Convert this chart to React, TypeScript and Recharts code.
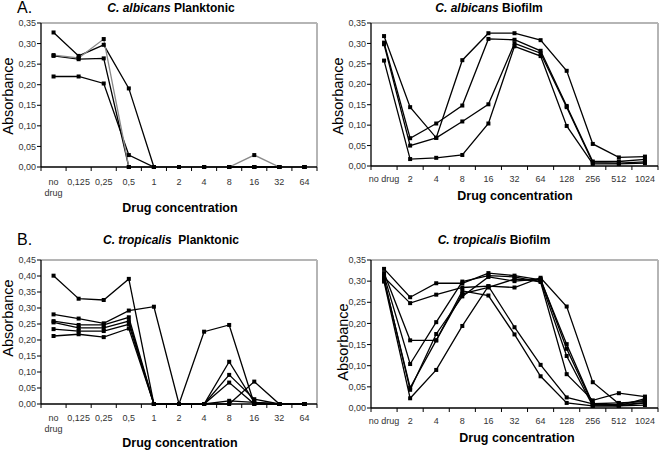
import React from "react";
import { LineChart, Line, XAxis, YAxis, ReferenceLine } from "recharts";

const planktonicConc = ["no drug", "0,125", "0,25", "0,5", "1", "2", "4", "8", "16", "32", "64"];
const biofilmConc = ["no drug", "2", "4", "8", "16", "32", "64", "128", "256", "512", "1024"];

const yTicks035 = [0, 0.05, 0.1, 0.15, 0.2, 0.25, 0.3, 0.35];
const yTicks045 = [0, 0.05, 0.1, 0.15, 0.2, 0.25, 0.3, 0.35, 0.4, 0.45];

// C. albicans planktonic
const albPlank1 = [0.327, 0.27, 0.297, 0.191, 0, 0, 0, 0, 0, 0, 0];
const albPlank2 = [0.272, 0.265, 0.311, 0, 0, 0, 0, 0, 0.029, 0, 0];
const albPlank3 = [0.27, 0.262, 0.264, 0, 0, 0, 0, 0, 0, 0, 0];
const albPlank4 = [0.22, 0.22, 0.203, 0.029, 0, 0, 0, 0, 0, 0, 0];

// C. albicans biofilm
const albBio1 = [0.318, 0.144, 0.069, 0.259, 0.325, 0.325, 0.308, 0.233, 0.054, 0.021, 0.023];
const albBio2 = [0.302, 0.068, 0.104, 0.148, 0.311, 0.309, 0.282, 0.147, 0.011, 0.011, 0.016];
const albBio3 = [0.298, 0.05, 0.069, 0.109, 0.151, 0.3, 0.276, 0.144, 0.008, 0.007, 0.01];
const albBio4 = [0.258, 0.017, 0.02, 0.027, 0.104, 0.293, 0.269, 0.098, 0.005, 0.005, 0.007];

// C. tropicalis planktonic
const tropPlank1 = [0.401, 0.329, 0.325, 0.391, 0, 0, 0, 0.132, 0.005, 0, 0];
const tropPlank2 = [0.28, 0.267, 0.252, 0.292, 0.304, 0, 0.226, 0.247, 0, 0, 0];
const tropPlank3 = [0.259, 0.247, 0.247, 0.271, 0, 0, 0, 0.091, 0.015, 0, 0];
const tropPlank4 = [0.255, 0.238, 0.238, 0.259, 0, 0, 0, 0.067, 0, 0, 0];
const tropPlank5 = [0.234, 0.228, 0.228, 0.249, 0, 0, 0, 0.01, 0.005, 0, 0];
const tropPlank6 = [0.2125, 0.218, 0.209, 0.236, 0, 0, 0, 0, 0.07, 0, 0];

// C. tropicalis biofilm
const tropBio1 = [0.329, 0.262, 0.295, 0.295, 0.319, 0.313, 0.303, 0.151, 0.01, 0.005, 0.012];
const tropBio2 = [0.309, 0.248, 0.268, 0.285, 0.288, 0.285, 0.308, 0.24, 0.061, 0.01, 0.018];
const tropBio3 = [0.319, 0.16, 0.16, 0.27, 0.285, 0.305, 0.3, 0.123, 0.005, 0.005, 0.022];
const tropBio4 = [0.313, 0.104, 0.203, 0.299, 0.313, 0.31, 0.298, 0.08, 0.018, 0.035, 0.027];
const tropBio5 = [0.303, 0.048, 0.16, 0.277, 0.266, 0.174, 0.075, 0.012, 0.005, 0.005, 0.007];
const tropBio6 = [0.299, 0.023, 0.09, 0.194, 0.288, 0.191, 0.102, 0.025, 0.01, 0.012, 0.015];
const tropBio7 = [0.306, 0.043, 0.175, 0.264, 0.31, 0.3, 0.305, 0.14, 0.008, 0.008, 0.012];

const FONT = "'Liberation Sans', Arial, sans-serif";

type Series = { values: number[]; color?: string };

function Panel(props: {
  left: number;
  top: number;
  width: number;
  height: number;
  margin: { top: number; right: number; bottom: number; left: number };
  labels: string[];
  wrap: boolean;
  yMax: number;
  yTicks: number[];
  series: Series[];
  tickMargin: number;
}) {
  const { left, top, width, height, margin, labels, wrap, yMax, yTicks, series, tickMargin } = props;
  const data = labels.map((label, i) => {
    const row: any = { x: i, label };
    series.forEach((s, k) => (row["s" + k] = s.values[i]));
    return row;
  });
  const xTicks: number[] = [];
  for (let i = 0; i <= labels.length * 2; i++) xTicks.push(i / 2 - 0.5);

  const XTick = (p: any) => {
    const { x, y, payload } = p;
    const v = payload.value;
    if (Math.abs(v - Math.round(v)) > 0.01) {
      const ay = y - 4 - tickMargin;
      return <line x1={x} x2={x} y1={ay} y2={ay + 4} stroke="#000" strokeWidth={1} />;
    }
    const label = labels[Math.round(v)];
    if (wrap && label === "no drug") {
      return (
        <text x={x} y={y} textAnchor="middle" fontSize={9} fill="#333" fontFamily={FONT}>
          <tspan x={x} dy="0.75em">no</tspan>
          <tspan x={x} dy="1.3em">drug</tspan>
        </text>
      );
    }
    return (
      <text x={x} y={y} dy="0.75em" textAnchor="middle" fontSize={9} fill="#333" fontFamily={FONT}>
        {label}
      </text>
    );
  };

  const square = (key: string) => (p: any) => (
    <rect key={key + "-" + p.index} x={p.cx - 2} y={p.cy - 2} width={4} height={4} fill="#000" />
  );

  return (
    <div style={{ position: "absolute", left, top }}>
      <LineChart width={width} height={height} data={data} margin={margin}>
        <XAxis
          dataKey="x"
          type="number"
          domain={[-0.5, labels.length - 0.5]}
          ticks={xTicks}
          interval={0}
          tick={XTick}
          tickLine={false}
          tickSize={4}
          tickMargin={tickMargin}
          axisLine={{ stroke: "#000", strokeWidth: 1.3 }}
          height={30}
        />
        <YAxis
          type="number"
          domain={[0, yMax]}
          ticks={yTicks}
          interval={0}
          width={41}
          tickSize={4}
          tickMargin={1}
          tickLine={{ stroke: "#000" }}
          axisLine={{ stroke: "#000", strokeWidth: 1.3 }}
          tick={{ fontSize: 9, fill: "#333", fontFamily: FONT }}
          tickFormatter={(v: number) => v.toFixed(2).replace(".", ",")}
        />
        <ReferenceLine y={yMax} stroke="#b5b5b5" strokeWidth={2} />
        <ReferenceLine x={labels.length - 0.5} stroke="#b5b5b5" strokeWidth={2} />
        {series.map((s, k) => (
          <Line
            key={k}
            dataKey={"s" + k}
            type="linear"
            stroke={s.color || "#000"}
            strokeWidth={1.3}
            dot={square("s" + k)}
            activeDot={false}
            isAnimationActive={false}
          />
        ))}
      </LineChart>
    </div>
  );
}

const textBase: React.CSSProperties = { position: "absolute", fontFamily: FONT, color: "#000", whiteSpace: "nowrap" };

function Title({ cx, cy, species, kind }: { cx: number; cy: number; species: string; kind: string }) {
  return (
    <div style={{ ...textBase, left: cx - 100, top: cy - 7, width: 200, textAlign: "center", fontSize: 12, lineHeight: "14px", fontWeight: "bold" }}>
      <i>{species}</i> {kind}
    </div>
  );
}

function XLabel({ cx, cy }: { cx: number; cy: number }) {
  return (
    <div style={{ ...textBase, left: cx - 80, top: cy - 8, width: 160, textAlign: "center", fontSize: 12.5, lineHeight: "16px", fontWeight: "bold" }}>
      Drug concentration
    </div>
  );
}

function YLabel({ cx, cy }: { cx: number; cy: number }) {
  return (
    <div style={{ ...textBase, left: cx - 50, top: cy - 8, width: 100, height: 16, textAlign: "center", fontSize: 14.5, lineHeight: "16px", transform: "rotate(-90deg)" }}>
      Absorbance
    </div>
  );
}

export default function App() {
  return (
    <div style={{ position: "absolute", left: 0, top: 0, width: 661, height: 450, background: "#fff", overflow: "hidden" }}>
      <Panel
        left={0}
        top={0}
        width={330}
        height={225}
        margin={{ top: 23, right: 13, bottom: 28, left: 0 }}
        labels={planktonicConc}
        wrap={true}
        yMax={0.35}
        yTicks={yTicks035}
        tickMargin={7}
        series={[{ values: albPlank1 }, { values: albPlank3 }, { values: albPlank4 }, { values: albPlank2, color: "#8a8a8a" }]}
      />
      <Panel
        left={330}
        top={0}
        width={331}
        height={225}
        margin={{ top: 23, right: 3, bottom: 29, left: 0 }}
        labels={biofilmConc}
        wrap={false}
        yMax={0.35}
        yTicks={yTicks035}
        tickMargin={5}
        series={[{ values: albBio1 }, { values: albBio2 }, { values: albBio3 }, { values: albBio4 }]}
      />
      <Panel
        left={0}
        top={225}
        width={330}
        height={225}
        margin={{ top: 35, right: 13, bottom: 16, left: 0 }}
        labels={planktonicConc}
        wrap={true}
        yMax={0.45}
        yTicks={yTicks045}
        tickMargin={6}
        series={[
          { values: tropPlank1 },
          { values: tropPlank2 },
          { values: tropPlank3 },
          { values: tropPlank4 },
          { values: tropPlank5 },
          { values: tropPlank6 },
        ]}
      />
      <Panel
        left={330}
        top={225}
        width={331}
        height={225}
        margin={{ top: 35, right: 3, bottom: 12, left: 0 }}
        labels={biofilmConc}
        wrap={false}
        yMax={0.35}
        yTicks={yTicks035}
        tickMargin={5}
        series={[
          { values: tropBio1 },
          { values: tropBio2 },
          { values: tropBio3 },
          { values: tropBio4 },
          { values: tropBio5 },
          { values: tropBio6 },
          { values: tropBio7 },
        ]}
      />

      <div style={{ ...textBase, left: 17, top: -1, fontSize: 16, lineHeight: "18px" }}>A.</div>
      <div style={{ ...textBase, left: 17, top: 231, fontSize: 16, lineHeight: "18px" }}>B.</div>

      <Title cx={171} cy={8} species="C. albicans" kind="Planktonic" />
      <Title cx={489} cy={8} species="C. albicans" kind="Biofilm" />
      <Title cx={171} cy={240} species="C. tropicalis" kind={"\u00a0Planktonic"} />
      <Title cx={494} cy={240} species="C. tropicalis" kind="Biofilm" />

      <XLabel cx={180} cy={208} />
      <XLabel cx={515} cy={196} />
      <XLabel cx={180} cy={443} />
      <XLabel cx={517} cy={438} />

      <YLabel cx={8} cy={96} />
      <YLabel cx={338} cy={96} />
      <YLabel cx={8} cy={318} />
      <YLabel cx={343} cy={342} />
    </div>
  );
}
